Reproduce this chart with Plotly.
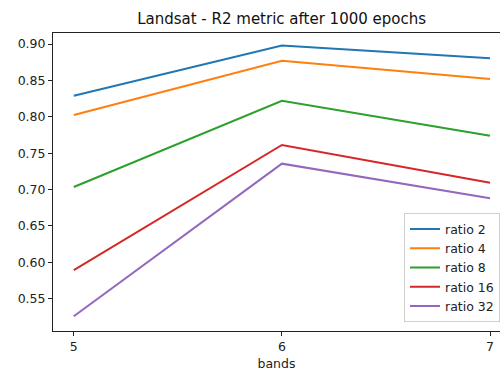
import plotly.graph_objects as go

bands = [5, 6, 7]
series_names = ["ratio 2", "ratio 4", "ratio 8", "ratio 16", "ratio 32"]
ratio2 = [0.829, 0.898, 0.8805]
ratio4 = [0.8025, 0.877, 0.8518]
ratio8 = [0.7034, 0.8219, 0.774]
ratio16 = [0.589, 0.7612, 0.7093]
ratio32 = [0.5256, 0.7355, 0.6878]
colors = ["#1f77b4", "#ff7f0e", "#2ca02c", "#d62728", "#9467bd"]
y_ticks = [0.55, 0.60, 0.65, 0.70, 0.75, 0.80, 0.85, 0.90]

font = "DejaVu Sans"
fig = go.Figure()
for name, vals, c in zip(series_names, [ratio2, ratio4, ratio8, ratio16, ratio32], colors):
    fig.add_trace(go.Scatter(x=bands, y=vals, mode="lines", name=name,
                             line=dict(color=c, width=2)))

W, H = 501, 372
l, r, t, b = 52.5, 1, 33.3, 41.3
fig.update_layout(
    width=W, height=H,
    margin=dict(l=l, r=r, t=t, b=b, pad=0),
    paper_bgcolor="white", plot_bgcolor="white",
    font=dict(family=font, size=12.5, color="#222"),
    title=dict(text="Landsat - R2 metric after 1000 epochs", x=(281.6) / W, xanchor="center",
               y=1 - 19 / H, yanchor="middle", font=dict(size=15, color="#111")),
    showlegend=True,
    legend=dict(x=1, xanchor="right", y=0.029, yanchor="bottom",
                bgcolor="white", bordercolor="#d0d0d0", borderwidth=1,
                font=dict(size=12.5, color="#222"), itemwidth=30,
                tracegroupgap=0),
)
fig.update_xaxes(range=[4.9, 7.048], tickvals=bands, ticktext=[str(v) for v in bands],
                 showgrid=False, zeroline=False, showline=True, linecolor="#222", linewidth=1,
                 mirror=True, ticks="outside", ticklen=4, tickcolor="#222",
                 title=dict(text="bands", font=dict(size=12.5, color="#222"), standoff=6))
fig.update_yaxes(range=[0.5054, 0.9152], tickvals=y_ticks, ticktext=[f"{v:.2f}" for v in y_ticks],
                 showgrid=False, zeroline=False, showline=True, linecolor="#222", linewidth=1,
                 mirror=False, ticks="outside", ticklen=4, tickcolor="#222")
fig.write_html("out.html")
